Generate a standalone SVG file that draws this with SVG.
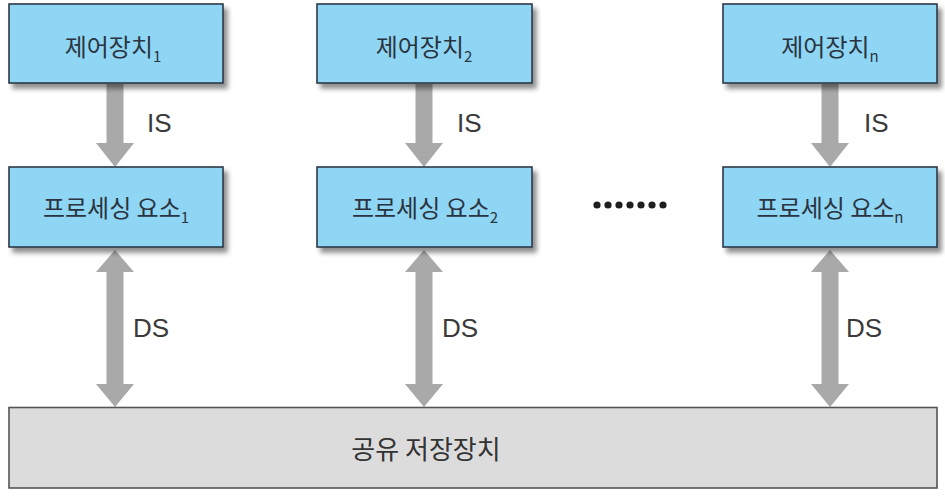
<svg xmlns="http://www.w3.org/2000/svg" width="945" height="498" viewBox="0 0 945 498">
<defs>
<filter id="sh" x="-10%" y="-10%" width="125%" height="140%">
<feGaussianBlur in="SourceAlpha" stdDeviation="2.5"/>
<feOffset dx="4" dy="5" result="b"/>
<feComponentTransfer><feFuncA type="linear" slope="0.45"/></feComponentTransfer>
<feMerge><feMergeNode/><feMergeNode in="SourceGraphic"/></feMerge>
</filter>
</defs>
<style>
.box{fill:#8fd5f4;stroke:#2b3a48;stroke-width:1.6;filter:url(#sh)}
.mem{fill:#dcdcdd;stroke:#555;stroke-width:1.6}
.t{font-family:"Noto Sans CJK KR","Noto Sans",sans-serif;font-size:24px;fill:#2a3440;text-anchor:middle}
.st{font-family:"Noto Sans CJK KR","Noto Sans",sans-serif;font-size:26px;fill:#333;text-anchor:middle}
.sub{font-size:15px}
.lab{font-family:"Liberation Sans",Arial,sans-serif;font-size:26px;fill:#3a3a3a}
.arr{fill:#a9a9a9}
.dot{fill:#1e1e1e}
</style>
<rect width="945" height="498" fill="#fff"/>
<g id="connectors">
<path class="arr" d="M106.5,84 H123.5 V143 H134 L115,167 L96,143 H106.5 Z"/>
<path class="arr" d="M415.5,84 H432.5 V143 H443 L424,167 L405,143 H415.5 Z"/>
<path class="arr" d="M821.5,84 H838.5 V143 H849 L830,167 L811,143 H821.5 Z"/>
<path class="arr" d="M115,250 L134,272 H123.5 V384 H134 L115,407 L96,384 H106.5 V272 H96 Z"/>
<path class="arr" d="M424,250 L443,272 H432.5 V384 H443 L424,407 L405,384 H415.5 V272 H405 Z"/>
<path class="arr" d="M830,250 L849,272 H838.5 V384 H849 L830,407 L811,384 H821.5 V272 H811 Z"/>
<text class="lab" x="147" y="132">IS</text>
<text class="lab" x="457" y="132">IS</text>
<text class="lab" x="864" y="132">IS</text>
<text class="lab" x="133" y="337">DS</text>
<text class="lab" x="442" y="337">DS</text>
<text class="lab" x="846" y="337">DS</text>
</g>
<g id="cu1"><rect class="box" x="9" y="4" width="214" height="79"/><text class="t" x="113" y="56">제어장치<tspan class="sub" dy="6">1</tspan></text></g>
<g id="cu2"><rect class="box" x="317" y="4" width="215" height="79"/><text class="t" x="424" y="56">제어장치<tspan class="sub" dy="6">2</tspan></text></g>
<g id="cun"><rect class="box" x="723" y="4" width="214" height="79"/><text class="t" x="830" y="56">제어장치<tspan class="sub" dy="6">n</tspan></text></g>
<g id="pe1"><rect class="box" x="9" y="167" width="214" height="80"/><text class="t" x="116" y="217">프로세싱 요소<tspan class="sub" dy="6">1</tspan></text></g>
<g id="pe2"><rect class="box" x="317" y="167" width="215" height="80"/><text class="t" x="425" y="217">프로세싱 요소<tspan class="sub" dy="6">2</tspan></text></g>
<g id="pen"><rect class="box" x="723" y="167" width="214" height="80"/><text class="t" x="830" y="217">프로세싱 요소<tspan class="sub" dy="6">n</tspan></text></g>
<g id="dots">
<circle class="dot" cx="597" cy="205" r="3.6"/><circle class="dot" cx="608" cy="205" r="3.6"/><circle class="dot" cx="619" cy="205" r="3.6"/><circle class="dot" cx="630" cy="205" r="3.6"/><circle class="dot" cx="641" cy="205" r="3.6"/><circle class="dot" cx="652" cy="205" r="3.6"/><circle class="dot" cx="663" cy="205" r="3.6"/>
</g>
<g id="mem"><rect class="mem" x="9" y="407.5" width="928" height="80.5"/><text class="st" x="426" y="459">공유 저장장치</text></g>
</svg>
